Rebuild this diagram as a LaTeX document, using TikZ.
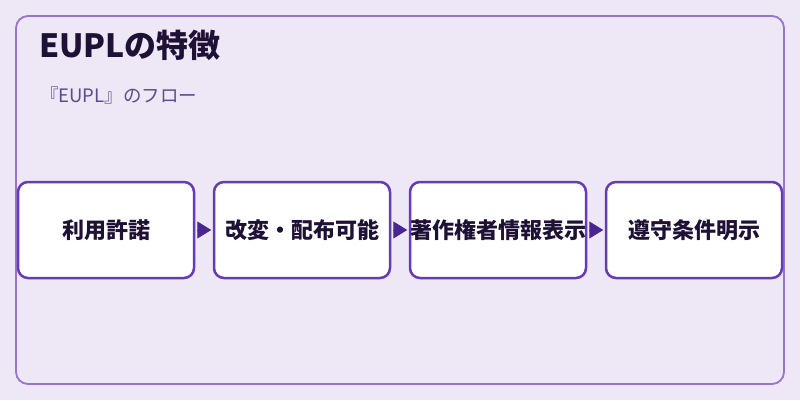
\documentclass[tikz,border=0pt]{standalone}
\usepackage{fontspec}
\setmainfont{Noto Sans CJK JP}
\usetikzlibrary{arrows.meta}
\definecolor{bgc}{HTML}{EDE7F6}
\definecolor{framec}{HTML}{9575CD}
\definecolor{boxc}{HTML}{673AB7}
\definecolor{arrc}{HTML}{4A2790}
\definecolor{titlec}{HTML}{1F1036}
\definecolor{subc}{HTML}{5E4B8B}
\begin{document}
\begin{tikzpicture}[x=1pt,y=1pt,
  stepbox/.style={draw=boxc, line width=2.5pt, fill=white, rounded corners=10pt,
    minimum width=176pt, minimum height=96pt, inner sep=0pt,
    font=\fontsize{22}{26}\selectfont\bfseries, text=titlec},
  flow/.style={draw=arrc, line width=1pt, -{Triangle[length=14pt,width=17pt]}, arrc,
    shorten >=1.5pt, shorten <=2pt}
]
\useasboundingbox (0,0) rectangle (800,400);
\fill[bgc] (0,0) rectangle (800,400);
\draw[framec, line width=1.8pt, rounded corners=12pt] (16,16) rectangle (784,384);
\node[anchor=base west, inner sep=0pt, text=titlec, font=\fontsize{32}{38}\selectfont\bfseries] (title) at (39,343) {EUPLの特徴};
\node[anchor=base west, inner sep=0pt, text=subc, font=\fontsize{18.5}{22}\selectfont] (sub) at (40,298) {『EUPL』のフロー};
\node[stepbox] (b1) at (106,170) {利用許諾};
\node[stepbox] (b2) at (302,170) {改変・配布可能};
\node[stepbox] (b3) at (498,170) {著作権者情報表示};
\node[stepbox] (b4) at (694,170) {遵守条件明示};
\draw[flow] (b1) -- (b2);
\draw[flow] (b2) -- (b3);
\draw[flow] (b3) -- (b4);
\end{tikzpicture}
\end{document}
